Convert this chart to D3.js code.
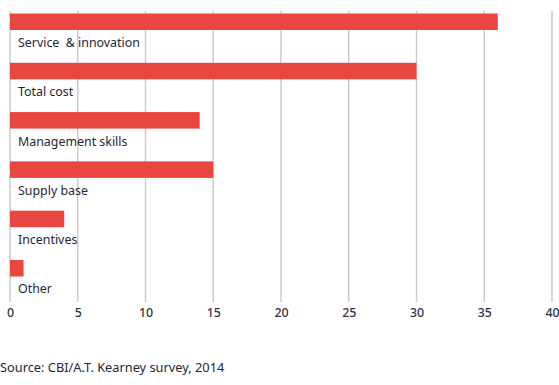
<!DOCTYPE html>
<html><head><meta charset="utf-8">
<script src="https://cdn.jsdelivr.net/npm/d3@7"></script>
<style>body{margin:0;background:#fff}svg{display:block}text{font-family:"Noto Sans",sans-serif}</style>
</head><body><svg id="c" width="559" height="385"></svg>
<script>
const categories = ["Service  & innovation","Total cost","Management skills","Supply base","Incentives","Other"];
const values = [36, 30, 14, 15, 4, 1];
const ticks = [0,5,10,15,20,25,30,35,40];
const source = "Source: CBI/A.T. Kearney survey, 2014";

const svg = d3.select("#c");
const x = d3.scaleLinear().domain([0,40]).range([10,552]);
const y = d3.scaleBand().domain(categories).range([13.5,276.5]).paddingInner(0.665).paddingOuter(0).align(0);

svg.append("g").selectAll("line").data(ticks).join("line")
  .attr("x1",d=>x(d)).attr("x2",d=>x(d)).attr("y1",11).attr("y2",302)
  .attr("stroke","#c9cdcd").attr("stroke-width",1.5);

svg.append("g").selectAll("rect").data(categories).join("rect")
  .attr("x",x(0)).attr("y",d=>y(d)).attr("height",y.bandwidth())
  .attr("width",(d,i)=>x(values[i])-x(0)).attr("fill","#e8473f");

svg.append("g").selectAll("text").data(categories).join("text")
  .attr("x",18).attr("y",d=>y(d)+33.5).attr("font-size",12.4).attr("fill","#262636")
  .style("white-space","pre").text(d=>d);

const ax = d3.axisBottom(x).tickValues(ticks).tickSize(0).tickPadding(0);
const g = svg.append("g").attr("transform","translate(0,308)").call(ax);
g.select(".domain").remove();
g.selectAll("text").attr("font-size",12.4).attr("fill","#33334a").attr("font-weight",500).attr("dy","0.71em")
  .style("font-family","'Noto Sans',sans-serif");

svg.append("text").attr("x",0).attr("y",372).attr("font-size",12.8).attr("fill","#262636").text(source);
</script></body></html>
